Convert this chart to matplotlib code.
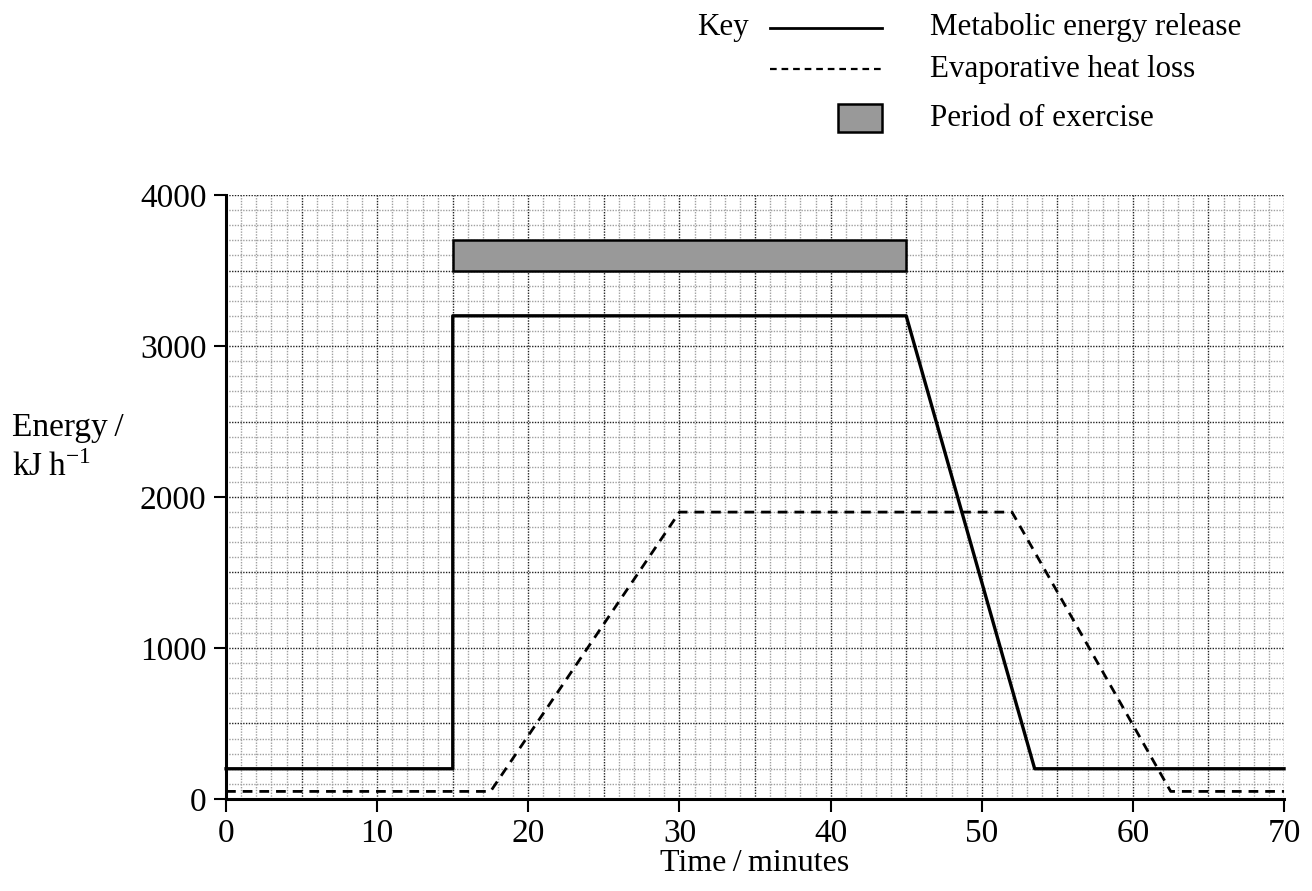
import matplotlib
matplotlib.use("Agg")
from matplotlib import pyplot as plt
from matplotlib.lines import Line2D
from matplotlib.patches import Rectangle
from matplotlib.ticker import MultipleLocator

plt.rcParams["font.family"] = ["Liberation Serif", "DejaVu Serif"]
plt.rcParams["mathtext.fontset"] = "stix"

# Metabolic energy release (kJ/h) against time (minutes)
metabolic_time = [0, 15, 15, 45, 53.5, 70]
metabolic_energy = [200, 200, 3200, 3200, 200, 200]

# Evaporative heat loss
evap_time = [0, 17.5, 30, 52, 62.5, 70]
evap_energy = [50, 50, 1900, 1900, 50, 50]

# Period of exercise bar
exercise_start, exercise_end = 15, 45
bar_bottom, bar_top = 3500, 3700

x_ticks = [0, 10, 20, 30, 40, 50, 60, 70]
y_ticks = [0, 1000, 2000, 3000, 4000]

FS = 24
KEY_FS = 22.3

fig = plt.figure(figsize=(13.12, 8.91), dpi=100)
ax = fig.add_axes([0.1723, 0.1033, 0.8064, 0.6778])

ax.set_xlim(0, 70)
ax.set_ylim(0, 4000)
ax.set_xticks(x_ticks)
ax.set_yticks(y_ticks)
ax.xaxis.set_minor_locator(MultipleLocator(1))
ax.yaxis.set_minor_locator(MultipleLocator(100))

# graph paper grid
for v in range(0, 71):
    major = v % 5 == 0
    ax.axvline(v, color="#222222" if major else "#a0a0a0", lw=1.0, ls=(0, (1, 1)), zorder=0)
for v in range(0, 4001, 100):
    major = v % 500 == 0
    ax.axhline(v, color="#222222" if major else "#a0a0a0", lw=1.0, ls=(0, (1, 1)), zorder=0)

ax.plot(metabolic_time, metabolic_energy, color="black", lw=2.4,
        solid_joinstyle="round", zorder=3, clip_on=False)
ax.plot(evap_time, evap_energy, color="black", lw=2.0, ls=(0, (3.5, 2.5)),
        dash_joinstyle="round", zorder=3, clip_on=False)
ax.add_patch(Rectangle((exercise_start, bar_bottom), exercise_end - exercise_start,
                       bar_top - bar_bottom, facecolor="#999999", edgecolor="black",
                       lw=1.8, zorder=3))

for side in ["top", "right"]:
    ax.spines[side].set_visible(False)
for side in ["left", "bottom"]:
    ax.spines[side].set_linewidth(2.2)
    ax.spines[side].set_zorder(4)

ax.tick_params(axis="both", which="major", direction="out", length=9, width=1.5,
               labelsize=FS, pad=5)
ax.tick_params(axis="both", which="minor", length=0)

ax.set_xlabel("Time\u2009/\u2009minutes", fontsize=23, labelpad=0)
fig.text(0.009, 0.520, "Energy\u2009/", fontsize=FS, ha="left", va="center")
fig.text(0.009, 0.475, "kJ\u2009h$^{\\mathregular{-1}}$", fontsize=FS, ha="left", va="center")

# key
fig.text(0.531, 0.969, "Key", fontsize=KEY_FS, ha="left", va="center")
fig.add_artist(Line2D([0.587, 0.672], [0.969, 0.969], color="black", lw=2.0))
fig.text(0.709, 0.969, "Metabolic energy release", fontsize=KEY_FS, ha="left", va="center")
fig.add_artist(Line2D([0.587, 0.672], [0.922, 0.922], color="black", lw=1.6,
                      ls=(0, (3, 2.2))))
fig.text(0.709, 0.922, "Evaporative heat loss", fontsize=KEY_FS, ha="left", va="center")
fig.add_artist(Rectangle((0.639, 0.852), 0.033, 0.031, facecolor="#999999",
                         edgecolor="black", lw=1.8, transform=fig.transFigure))
fig.text(0.709, 0.867, "Period of exercise", fontsize=KEY_FS, ha="left", va="center")

fig.savefig("out.png", dpi=100)
